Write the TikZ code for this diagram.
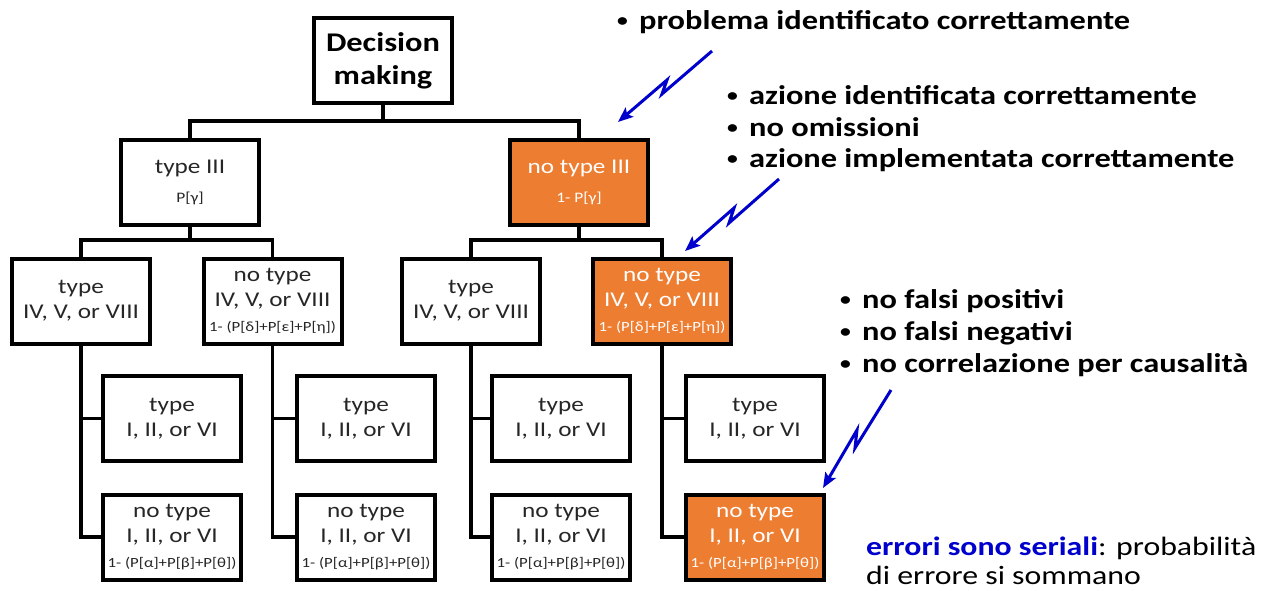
\documentclass[tikz,border=0pt]{standalone}
\usepackage{fontspec}
\setmainfont{Carlito}[FakeStretch=1.2]
\usetikzlibrary{arrows.meta}
\definecolor{boxorange}{HTML}{ED7D31}
\definecolor{boltblue}{HTML}{0000CC}
% small bullet followed by a fixed gap
\newcommand{\itemdot}{\makebox[22pt][l]{\raisebox{2.5pt}{\fontsize{18}{18}\selectfont •}}}

\begin{document}
\begin{tikzpicture}[x=1pt,y=-1pt,
  box/.style={draw=black, line width=4pt, minimum width=138pt, minimum height=85pt,
    align=center, inner sep=0pt, text=black!85, font=\fontsize{21}{25}\selectfont},
  hot/.style={box, fill=boxorange, text=white},
  wire/.style={line width=3.5pt, line join=miter},
  bolt/.style={boltblue, line width=3pt, line join=miter,
    -{Stealth[length=15pt, width=12pt, inset=3pt]}},
  note/.style={anchor=base west, inner sep=0pt, font=\fontsize{27}{32}\selectfont\bfseries},
  plain/.style={anchor=base west, inner sep=0pt, font=\fontsize{26.5}{30}\selectfont}
]
\useasboundingbox (0,0) rectangle (1270,590);

% root
\node[box, font=\fontsize{27}{33}\selectfont\bfseries, text=black] (dm) at (383,60.5) {Decision\\making};

% level 1
\node[box] (t3) at (190,182) {type III\\[4pt]{\fontsize{14.5}{16}\selectfont P[γ]}};
\node[hot] (nt3) at (579,182) {no type III\\[4pt]{\fontsize{14.5}{16}\selectfont 1- P[γ]}};

% level 2
\node[box] (a) at (81,301) {type\\IV, V, or VIII};
\node[box] (b) at (272.5,301) {no type\\IV, V, or VIII\\{\fontsize{14}{16}\selectfont 1- (P[δ]+P[ε]+P[η])}};
\node[box] (c) at (471,301) {type\\IV, V, or VIII};
\node[hot] (d) at (662,301) {no type\\IV, V, or VIII\\{\fontsize{14}{16}\selectfont 1- (P[δ]+P[ε]+P[η])}};

% level 3
\foreach \p/\x in {a/172,b/366,c/561,d/755}{
  \node[box] (\p1) at (\x,418.5) {type\\I, II, or VI};
}
\foreach \p/\x in {a/172,b/366,c/561}{
  \node[box] (\p2) at (\x,537) {no type\\I, II, or VI\\{\fontsize{14}{16}\selectfont 1- (P[α]+P[β]+P[θ])}};
}
\node[hot] (d2) at (755,537) {no type\\I, II, or VI\\{\fontsize{14}{16}\selectfont 1- (P[α]+P[β]+P[θ])}};

% tree connectors
\coordinate (j1) at (383,121);
\coordinate (j2) at (190,240);
\coordinate (j3) at (579,240);
\draw[wire] (dm.south) -- (j1);
\draw[wire] (t3.north) |- (j1) -| (nt3.north);
\draw[wire] (t3.south) -- (j2);
\draw[wire] (a.north) |- (j2) -| (b.north);
\draw[wire] (nt3.south) -- (j3);
\draw[wire] (c.north) |- (j3) -| (d.north);
\foreach \p in {a,b,c,d}{
  \draw[wire] (\p.south) |- (\p1.west);
  \draw[wire] (\p.south) |- (\p2.west);
}

% lightning arrows
\coordinate (s1) at (712,51);  \coordinate (e1) at (618,122);
\coordinate (s2) at (779,179); \coordinate (e2) at (685,251);
\coordinate (s3) at (891,390); \coordinate (e3) at (823,488);
\draw[bolt] (s1) -- (662,94) -- (667,80) -- (e1);
\draw[bolt] (s2) -- (729,223) -- (734,208) -- (e2);
\draw[bolt] (s3) -- (855,448) -- (857,430) -- (e3);

% notes
\node[note] (n1) at (617,29) {\itemdot problema identificato correttamente};
\node[note] (n2) at (727,104) {\itemdot azione identificata correttamente};
\node[note] (n3) at (727,136) {\itemdot no omissioni};
\node[note] (n4) at (727,167) {\itemdot azione implementata correttamente};
\node[note] (n5) at (840,308) {\itemdot no falsi positivi};
\node[note] (n6) at (840,340) {\itemdot no falsi negativi};
\node[note] (n7) at (840,372) {\itemdot no correlazione per causalità};
\node[plain] (n8) at (866,555) {{\color{boltblue}\bfseries errori sono seriali}: probabilità};
\node[plain] (n9) at (866,584) {di errore si sommano};
\end{tikzpicture}
\end{document}
